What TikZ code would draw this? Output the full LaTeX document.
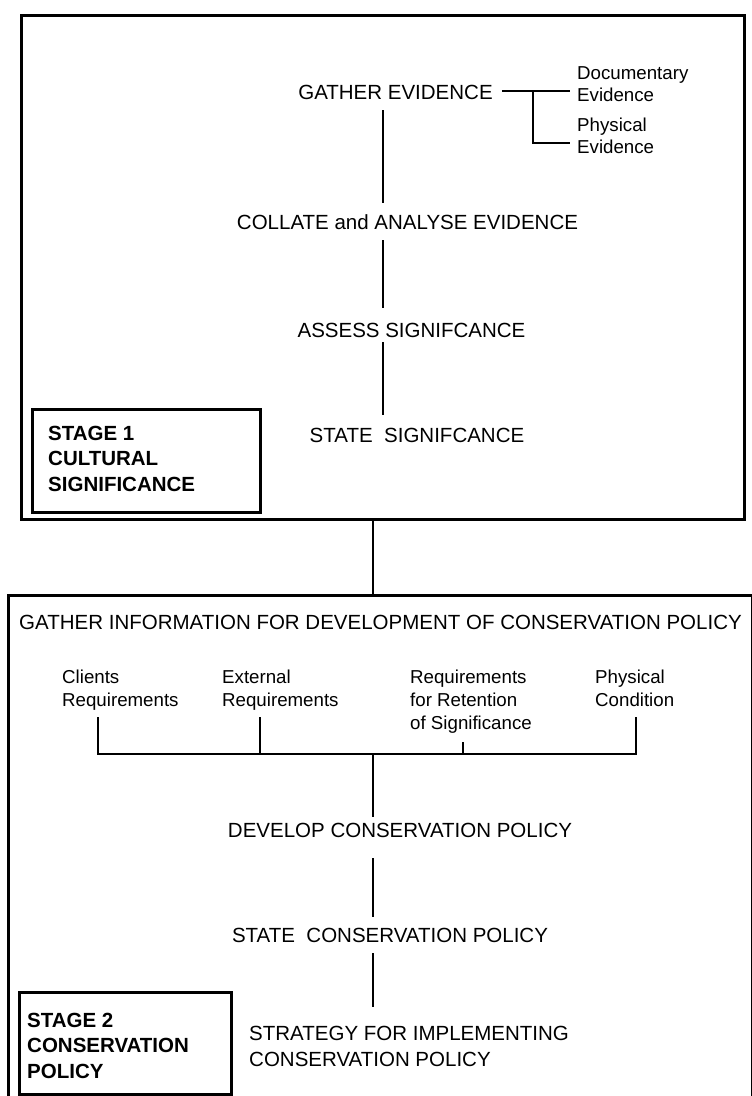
\documentclass[tikz,border=0pt]{standalone}
\usepackage{fontspec}
\setmainfont{Liberation Sans}
\begin{document}
\begin{tikzpicture}[x=1pt,y=-1pt,
  frame/.style={draw, line width=2.9pt, inner sep=0pt, anchor=north west},
  conn/.style={line width=2.7pt},
  big/.style={font=\fontsize{20.5}{26}\selectfont, inner sep=0pt, text height=14.7pt, text depth=0pt},
  multi/.style={inner sep=0pt, anchor=base west},
  small/.style={font=\fontsize{18.7}{22}\selectfont},
  smallb/.style={font=\fontsize{18.7}{23}\selectfont},
  bigm/.style={font=\fontsize{20.5}{26}\selectfont},
  stagelbl/.style={font=\fontsize{20.5}{25.5}\selectfont\bfseries},
]
\useasboundingbox (0,0) rectangle (752,1096);
\clip (0,0) rectangle (752,1096);

% frames
\node[frame, minimum width=723pt, minimum height=504pt] (box1) at (20,14) {};
\node[frame, minimum width=744pt, minimum height=520pt] (box2) at (7,594) {};
\node[frame, minimum width=228pt, minimum height=103pt] (s1box) at (31,408) {};
\node[frame, minimum width=212pt, minimum height=102pt] (s2box) at (18,991) {};

% spine coordinates
\coordinate (sp1) at (383,0);
\coordinate (sp2) at (373,0);

% stage 1 texts
\node[big] (ge) at (395.5,92) {GATHER EVIDENCE};
\node[big] (col) at (407.5,222) {COLLATE and ANALYSE EVIDENCE};
\node[big] (ass) at (411.5,330) {ASSESS SIGNIFCANCE};
\node[big] (ss) at (417,435) {STATE\ \ SIGNIFCANCE};

\node[multi, small] (doc) at (577,79.7) {\begin{tabular}[t]{@{}l@{}}Documentary\\Evidence\end{tabular}};
\node[multi, small] (phy) at (577,131.7) {\begin{tabular}[t]{@{}l@{}}Physical\\Evidence\end{tabular}};

\node[multi, stagelbl] (s1) at (48,440.3) {\begin{tabular}[t]{@{}l@{}}STAGE 1\\CULTURAL\\SIGNIFICANCE\end{tabular}};

% stage 1 connectors
\coordinate (t1) at (533,91);
\coordinate (t2) at (570,143);
\draw[conn, shorten <=9pt, shorten >=7pt] (ge.east |- t1) -- (doc.west |- t1);
\draw[conn] (t1) |- (t2);
\draw[conn, shorten <=10.6pt, shorten >=11.6pt] (ge.south -| sp1) -- (col.north -| sp1);
\draw[conn, shorten <=10.6pt, shorten >=14.6pt] (col.south -| sp1) -- (ass.north -| sp1);
\draw[conn, shorten <=4.6pt, shorten >=12.6pt] (ass.south -| sp1) -- (ss.north -| sp1);

% link between stages
\draw[conn] (box1.south -| sp2) -- (box2.north -| sp2);

% stage 2 texts
\node[big] (gi) at (380.5,622) {GATHER INFORMATION FOR DEVELOPMENT OF CONSERVATION POLICY};
\node[multi, smallb] (cli) at (62,683.7) {\begin{tabular}[t]{@{}l@{}}Clients\\Requirements\end{tabular}};
\node[multi, smallb] (ext) at (222,683.7) {\begin{tabular}[t]{@{}l@{}}External\\Requirements\end{tabular}};
\node[multi, smallb] (ret) at (410,683.7) {\begin{tabular}[t]{@{}l@{}}Requirements\\for Retention\\of Significance\end{tabular}};
\node[multi, smallb] (phc) at (595,683.7) {\begin{tabular}[t]{@{}l@{}}Physical\\Condition\end{tabular}};

\node[big] (dev) at (400,830) {DEVELOP CONSERVATION POLICY};
\node[big] (scp) at (390,935) {STATE\ \ CONSERVATION POLICY};
\node[multi, bigm] (str) at (249,1040.3) {\begin{tabular}[t]{@{}l@{}}STRATEGY FOR IMPLEMENTING\\CONSERVATION POLICY\end{tabular}};

\node[multi, stagelbl] (s2) at (27,1027.3) {\begin{tabular}[t]{@{}l@{}}STAGE 2\\CONSERVATION\\POLICY\end{tabular}};

% stage 2 connectors
\coordinate (b1) at (98,754);
\coordinate (b2) at (260,754);
\coordinate (b3) at (463,754);
\coordinate (b4) at (636,754);
\coordinate (bc) at (373,754);
\draw[conn, line cap=rect] (b1) -- (b4);
\draw[conn] (b1 |- 0,717) -- (b1);
\draw[conn] (b2 |- 0,717) -- (b2);
\draw[conn] (b3 |- 0,742) -- (b3);
\draw[conn] (b4 |- 0,717) -- (b4);
\draw[conn, shorten >=5.6pt] (bc) -- (dev.north -| bc);
\draw[conn, shorten <=20.6pt, shorten >=10.6pt] (dev.south -| sp2) -- (scp.north -| sp2);
\draw[conn, shorten <=10.6pt, shorten >=14.8pt] (scp.south -| sp2) -- (str.north -| sp2);
\end{tikzpicture}
\end{document}
